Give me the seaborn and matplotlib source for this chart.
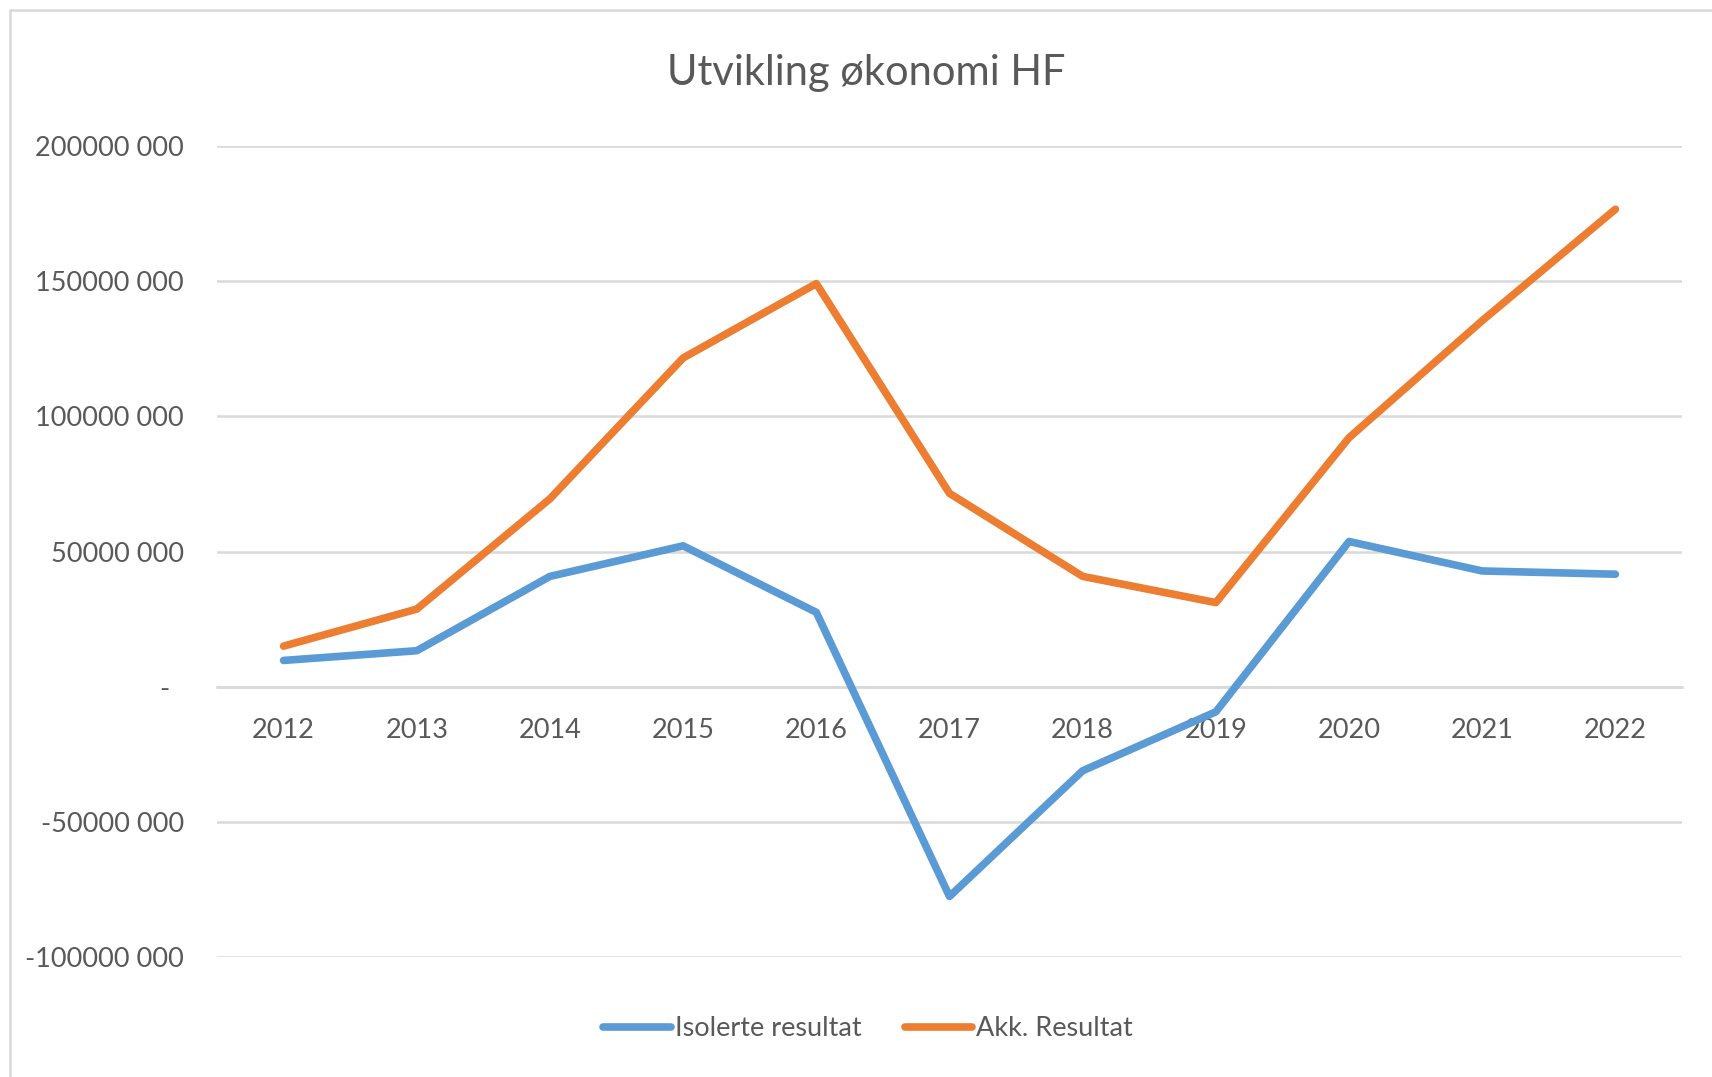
import matplotlib
matplotlib.use("Agg")
import matplotlib.pyplot as plt
import seaborn as sns
import pandas as pd
from matplotlib.lines import Line2D

years = ["2012", "2013", "2014", "2015", "2016", "2017", "2018", "2019", "2020", "2021", "2022"]
isolerte = [9.7e6, 13.3e6, 40.8e6, 52.1e6, 27.5e6, -77.6e6, -31.1e6, -9.3e6, 53.7e6, 42.8e6, 41.6e6]
akk = [15.0e6, 28.7e6, 69.5e6, 121.6e6, 149.1e6, 71.5e6, 40.8e6, 31.1e6, 92.1e6, 135.4e6, 176.6e6]
series_names = ["Isolerte resultat", "Akk. Resultat"]
y_ticks = [-100e6, -50e6, 0, 50e6, 100e6, 150e6, 200e6]
y_tick_labels = ["-100000 000", "-50000 000", "-  ", "50000 000", "100000 000", "150000 000", "200000 000"]
title = "Utvikling økonomi HF"

df = pd.DataFrame({
    "year": years * 2,
    "value": isolerte + akk,
    "series": [series_names[0]] * len(years) + [series_names[1]] * len(years),
})

sns.set_theme(style="white")
plt.rcParams["font.family"] = ["Lato", "DejaVu Sans"]
text_color = "#595959"
grid_color = "#d9d9d9"

fig = plt.figure(figsize=(17.12, 10.77), dpi=100)
ax = fig.add_axes([217 / 1712, 1 - 957 / 1077, (1682 - 217) / 1712, (957 - 146) / 1077])

sns.lineplot(data=df, x="year", y="value", hue="series", palette=["#5B9BD5", "#ED7D31"],
             linewidth=5.5, sort=False, ax=ax, legend=True)
for ln in ax.get_lines():
    ln.set_solid_capstyle("round")
    ln.set_solid_joinstyle("round")

ax.set_xlim(-0.5, len(years) - 0.5)
ax.set_ylim(-100e6, 200e6)
ax.set_yticks(y_ticks)
ax.set_yticklabels(y_tick_labels)
ax.yaxis.grid(True, color=grid_color, linewidth=1.8)
ax.xaxis.grid(False)
ax.set_axisbelow(True)
for s in ["top", "right", "left"]:
    ax.spines[s].set_visible(False)
ax.spines["bottom"].set_position(("data", 0))
ax.spines["bottom"].set_color(grid_color)
ax.spines["bottom"].set_linewidth(1.8)
ax.spines["bottom"].set_zorder(0.5)
ax.tick_params(axis="x", length=0, pad=22.5, labelsize=19.5, labelcolor=text_color)
ax.tick_params(axis="y", length=0, pad=24, labelsize=19.5, labelcolor=text_color)
ax.set_xlabel("")
ax.set_ylabel("")

fig.text(866 / 1712, 1 - 73 / 1077, title, ha="center", va="center", fontsize=30, color=text_color)

handles, labels = ax.get_legend_handles_labels()
ax.get_legend().remove()
leg = fig.legend(handles, labels, loc="center", bbox_to_anchor=(868 / 1712, 1 - 1029 / 1077), ncol=2,
                 frameon=False, fontsize=19.5, handlelength=2.5, handletextpad=0.15, columnspacing=1.6)
for t in leg.get_texts():
    t.set_color(text_color)
for h in leg.get_lines():
    h.set_linewidth(5.5)
    h.set_solid_capstyle("round")

# chart frame (cropped at right/bottom)
fig.add_artist(Line2D([10 / 1712, 10 / 1712], [0, 1 - 10 / 1077], transform=fig.transFigure, color=grid_color, linewidth=1.8))
fig.add_artist(Line2D([10 / 1712, 1], [1 - 10 / 1077, 1 - 10 / 1077], transform=fig.transFigure, color=grid_color, linewidth=1.8))

fig.savefig("out.png", dpi=100)
